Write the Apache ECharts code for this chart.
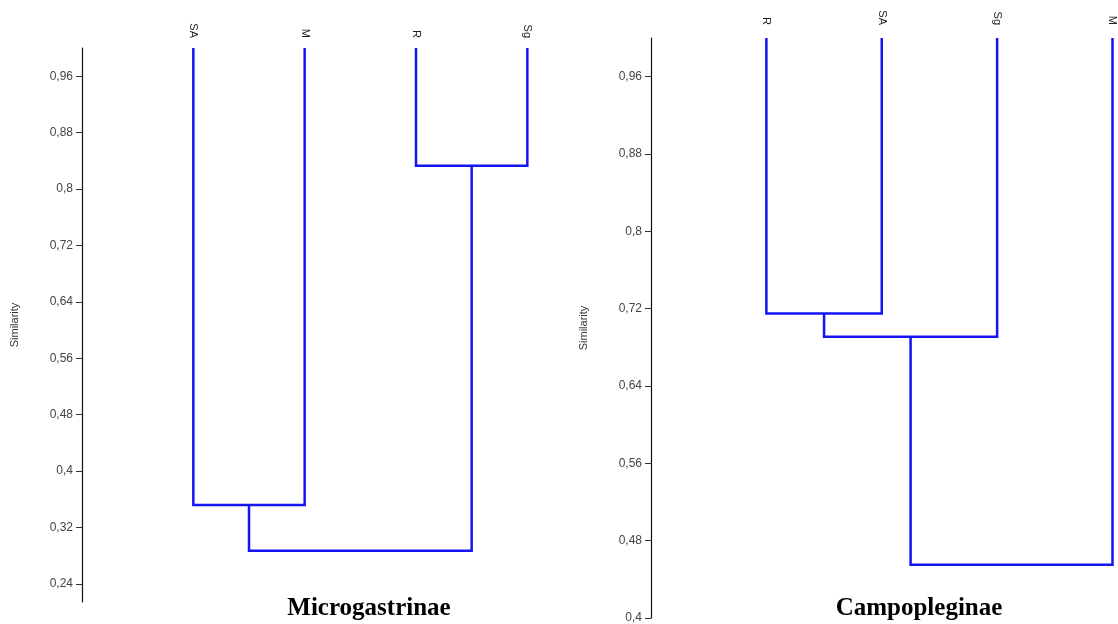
<!DOCTYPE html>
<html>
<head>
<meta charset="utf-8">
<script src="https://cdn.jsdelivr.net/npm/echarts@6/dist/echarts.min.js"></script>
<style>
  html, body { margin: 0; padding: 0; background: #fff; }
  #chart { width: 1118px; height: 624px; }
</style>
</head>
<body>
<div id="chart"></div>
<script>
// leaves, left to right
var leftLeaves = ['SA', 'M', 'R', 'Sg'];
var rightLeaves = ['R', 'SA', 'Sg', 'M'];
// merges: [nodeA, nodeB, similarity]; nodes 0..3 are leaves, 4.. are earlier merges
var leftMerges = [[0, 1, 0.352], [2, 3, 0.833], [4, 5, 0.287]];
var rightMerges = [[0, 1, 0.715], [4, 2, 0.691], [5, 3, 0.455]];
// y tick labels
var leftTicks = [0.24, 0.32, 0.4, 0.48, 0.56, 0.64, 0.72, 0.8, 0.88, 0.96];
var rightTicks = [0.4, 0.48, 0.56, 0.64, 0.72, 0.8, 0.88, 0.96];
var panelTitles = ['Microgastrinae', 'Campopleginae'];

var blue = '#1414f5';

// turn merge list into U-shaped links: [x1, h1, x2, h2, hJoin]
function buildLinks(leaves, merges, top) {
    var nodes = leaves.map(function (n, i) { return { x: i, h: top }; });
    var links = [];
    merges.forEach(function (m) {
        var a = nodes[m[0]], b = nodes[m[1]];
        links.push([a.x, a.h, b.x, b.h, m[2]]);
        nodes.push({ x: (a.x + b.x) / 2, h: m[2] });
    });
    return links;
}

function renderLink(params, api) {
    var p1 = api.coord([api.value(0), api.value(1)]);
    var p2 = api.coord([api.value(0), api.value(4)]);
    var p3 = api.coord([api.value(2), api.value(4)]);
    var p4 = api.coord([api.value(2), api.value(3)]);
    return {
        type: 'polyline',
        shape: { points: [p1, p2, p3, p4] },
        style: { stroke: blue, lineWidth: 2.5, fill: null, lineJoin: 'miter' }
    };
}

function fmt(v) {
    return String(+v.toFixed(2)).replace('.', ',');
}

function xAxisFor(idx, leaves, max, margin) {
    return {
        gridIndex: idx,
        type: 'value',
        position: 'top',
        min: -1,
        max: max,
        interval: 1,
        axisLine: { show: false, onZero: false },
        axisTick: { show: false },
        splitLine: { show: false },
        axisLabel: {
            rotate: 90,
            margin: margin,
            color: '#222',
            fontSize: 11,
            fontFamily: 'Liberation Sans, Arial',
            formatter: function (v) { return leaves[v] || ''; }
        }
    };
}

function yAxisFor(idx, min, max, ticks) {
    return {
        gridIndex: idx,
        type: 'value',
        min: min,
        max: max,
        name: 'Similarity',
        nameLocation: 'middle',
        nameRotate: 90,
        nameGap: 62,
        nameTextStyle: { color: '#333', fontSize: 11, fontFamily: 'Liberation Sans, Arial' },
        axisLine: { show: true, onZero: false, lineStyle: { color: '#111', width: 1.2 } },
        axisTick: { show: true, length: 6, customValues: ticks, lineStyle: { color: '#333' } },
        axisLabel: {
            customValues: ticks,
            color: '#444',
            fontSize: 12,
            margin: 9,
            fontFamily: 'Liberation Sans, Arial',
            formatter: fmt
        },
        splitLine: { show: false }
    };
}

var chart = echarts.init(document.getElementById('chart'), null, { renderer: 'canvas' });
chart.setOption({
    backgroundColor: '#fff',
    animation: false,
    title: [
        {
            text: panelTitles[0], left: 364, top: 591, textAlign: 'center',
            textStyle: { fontFamily: 'Liberation Serif, Times New Roman', fontWeight: 'bold', fontSize: 25, color: '#000' }
        },
        {
            text: panelTitles[1], left: 914, top: 591, textAlign: 'center',
            textStyle: { fontFamily: 'Liberation Serif, Times New Roman', fontWeight: 'bold', fontSize: 25, color: '#000' }
        }
    ],
    grid: [
        { left: 82, top: 48, width: 501, height: 554 },
        { left: 651, top: 38, width: 466, height: 581 }
    ],
    xAxis: [
        xAxisFor(0, leftLeaves, 3.5, 10),
        xAxisFor(1, rightLeaves, 3, 13)
    ],
    yAxis: [
        yAxisFor(0, 0.2145, 1.0, leftTicks),
        yAxisFor(1, 0.4, 1.0, rightTicks)
    ],
    series: [
        {
            type: 'custom',
            xAxisIndex: 0, yAxisIndex: 0,
            renderItem: renderLink,
            encode: { x: [0, 2], y: [1, 3, 4] },
            data: buildLinks(leftLeaves, leftMerges, 1.0),
            clip: false
        },
        {
            type: 'custom',
            xAxisIndex: 1, yAxisIndex: 1,
            renderItem: renderLink,
            encode: { x: [0, 2], y: [1, 3, 4] },
            data: buildLinks(rightLeaves, rightMerges, 1.0),
            clip: false
        }
    ]
});
</script>
</body>
</html>
